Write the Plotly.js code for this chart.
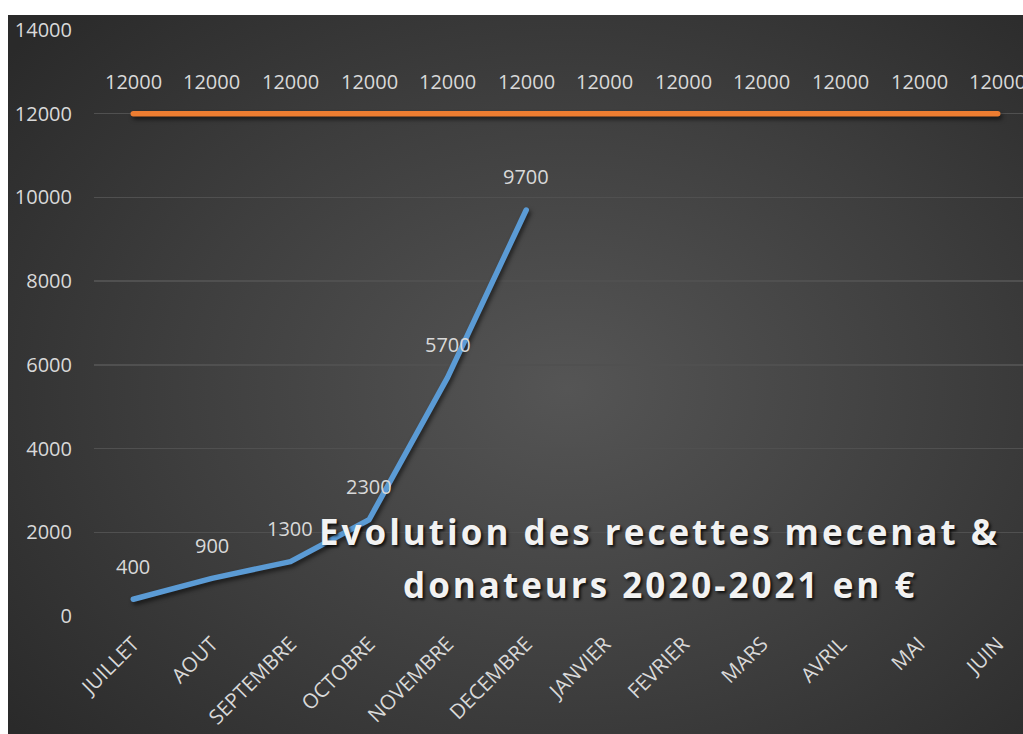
<!DOCTYPE html>
<html>
<head>
<meta charset="utf-8">
<script src="https://cdn.plot.ly/plotly-3.0.1.min.js"></script>
<style>
html,body{margin:0;padding:0;background:#ffffff;width:1023px;height:734px;overflow:hidden;}
#wrap{position:absolute;left:8px;top:15px;width:1015px;height:719px;overflow:hidden;
background:radial-gradient(ellipse 70% 75% at 55% 52%, #555555 0%, #3e3e3e 55%, #2a2a2a 100%);}
#chart{position:absolute;left:0;top:0;width:1050px;height:719px;}
#chart .scatterlayer .js-line{stroke-linecap:round !important;stroke-linejoin:round !important;
filter:drop-shadow(2px 3px 2px rgba(0,0,0,0.55));}
</style>
</head>
<body>
<div id="wrap"><div id="chart"></div></div>
<script>
const months = ["JUILLET","AOUT","SEPTEMBRE","OCTOBRE","NOVEMBRE","DECEMBRE","JANVIER","FEVRIER","MARS","AVRIL","MAI","JUIN"];
const objectif = [12000,12000,12000,12000,12000,12000,12000,12000,12000,12000,12000,12000];
const recettesMonths = ["JUILLET","AOUT","SEPTEMBRE","OCTOBRE","NOVEMBRE","DECEMBRE"];
const recettes = [400,900,1300,2300,5700,9700];
const titleLines = ["Evolution des recettes mecenat &", "donateurs 2020-2021 en €"];

const labelFont = {family:"Open Sans, sans-serif", size:20, color:"#d9d9d9"};

const traces = [
  {x:months, y:objectif, type:"scatter", mode:"lines",
   line:{color:"#ED7D31", width:5.5}, hoverinfo:"x+y", showlegend:false},
  {x:recettesMonths, y:recettes, type:"scatter", mode:"lines",
   line:{color:"#5B9BD5", width:5.5}, hoverinfo:"x+y", showlegend:false}
];

const annotations = [];
months.forEach((m,i)=>annotations.push({x:m, y:objectif[i], xref:"x", yref:"y",
  text:String(objectif[i]), showarrow:false, yshift:32, font:labelFont}));
recettesMonths.forEach((m,i)=>annotations.push({x:m, y:recettes[i], xref:"x", yref:"y",
  text:String(recettes[i]), showarrow:false, yshift:33, font:labelFont}));
const titleY = [0.145, 0.053];
titleLines.forEach((t,i)=>annotations.push({xref:"paper", yref:"paper", x:0.60, y:titleY[i],
  xanchor:"center", yanchor:"middle",
  text:"<span style='letter-spacing:3px'><b>"+t+"</b></span>", showarrow:false, align:"center",
  font:{family:"Open Sans, sans-serif", size:35, color:"#f2f2f2", shadow:"2px 2px 3px rgba(0,0,0,0.8)"}}));

const layout = {
  width:1050, height:719,
  margin:{l:86, r:21, t:15, b:118},
  paper_bgcolor:"rgba(0,0,0,0)", plot_bgcolor:"rgba(0,0,0,0)",
  showlegend:false,
  separators:".",
  xaxis:{type:"category", categoryorder:"array", categoryarray:months,
    range:[-0.5,11.5], tickangle:-45, showgrid:false, zeroline:false, showline:false,
    ticks:"", ticklabelstandoff:11,
    tickfont:{family:"Open Sans, sans-serif", size:20.5, color:"#d9d9d9"}, fixedrange:true},
  yaxis:{range:[0,14000], dtick:2000, tick0:0, tickformat:"d", showgrid:true, gridcolor:"#505050", gridwidth:1.3,
    zeroline:false, showline:false, ticks:"", ticklabelstandoff:21,
    tickfont:{family:"Open Sans, sans-serif", size:20, color:"#d9d9d9"}, fixedrange:true},
  annotations:annotations
};

Plotly.newPlot("chart", traces, layout, {displayModeBar:false, staticPlot:true});
</script>
</body>
</html>
